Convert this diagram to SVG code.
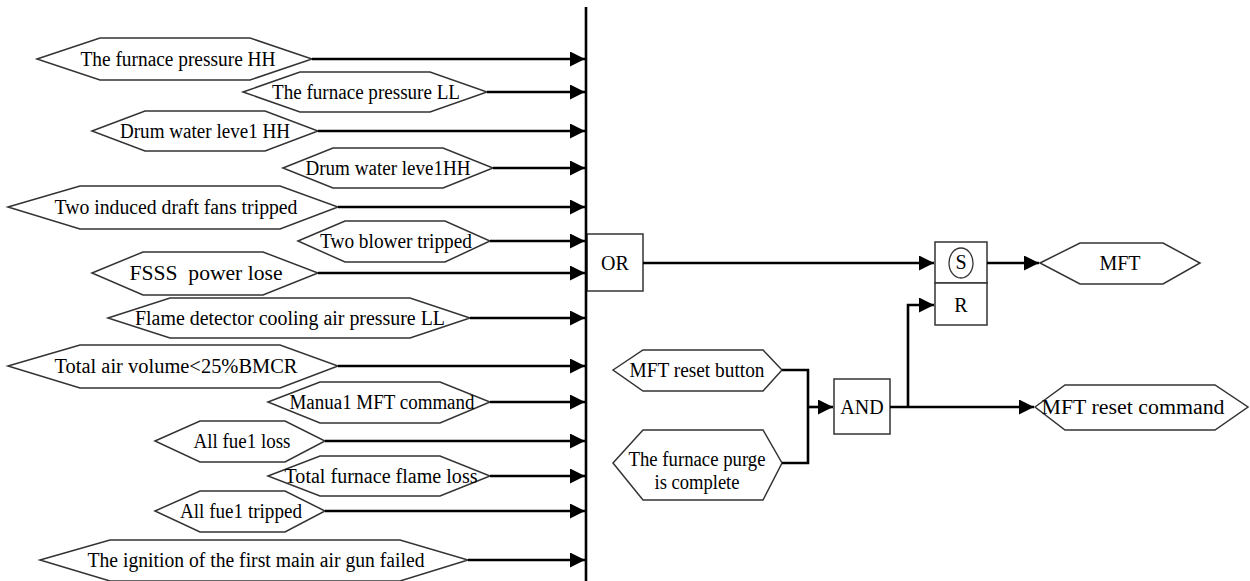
<svg xmlns="http://www.w3.org/2000/svg" width="1250" height="581" viewBox="0 0 1250 581">
  <style>
    .hex { fill: #ffffff; stroke: #333333; stroke-width: 1.5; }
    .box { fill: #ffffff; stroke: #333333; stroke-width: 1.5; }
    .lbl { font-family: "Liberation Serif", "Times New Roman", serif; font-size: 20px; fill: #000000; text-anchor: middle; dominant-baseline: central; }
    .wire { fill: none; stroke: #000000; stroke-width: 2.6; }
    .arr { marker-end: url(#head); }
  </style>
  <defs>
    <marker id="head" markerUnits="userSpaceOnUse" markerWidth="16" markerHeight="15" refX="15" refY="7.5" orient="auto">
      <path d="M0,0 L15,7.5 L0,15 z" fill="#000000"/>
    </marker>
  </defs>
  <rect width="1250" height="581" fill="#ffffff"/>

  <!-- trip condition inputs -->
  <g id="in1"><polygon class="hex" points="37,59 100,38 250,38 312,59 250,80 100,80"/><text class="lbl" x="178" y="59" textLength="195" lengthAdjust="spacingAndGlyphs">The furnace pressure HH</text></g>
  <g id="in2"><polygon class="hex" points="243,92 300,72 430,72 487,92 430,112 300,112"/><text class="lbl" x="366" y="92" textLength="188" lengthAdjust="spacingAndGlyphs">The furnace pressure LL</text></g>
  <g id="in3"><polygon class="hex" points="92,131 145,111 265,111 318,131 265,151 145,151"/><text class="lbl" x="205" y="131" textLength="170" lengthAdjust="spacingAndGlyphs">Drum water leve1 HH</text></g>
  <g id="in4"><polygon class="hex" points="283,168 333,148 443,148 493,168 443,188 333,188"/><text class="lbl" x="388" y="168" textLength="165" lengthAdjust="spacingAndGlyphs">Drum water leve1HH</text></g>
  <g id="in5"><polygon class="hex" points="8,207 80,186 280,186 338,207 280,229 80,229"/><text class="lbl" x="176" y="207" textLength="243" lengthAdjust="spacingAndGlyphs">Two induced draft fans tripped</text></g>
  <g id="in6"><polygon class="hex" points="298,241 345,221 445,221 490,241 445,262 345,262"/><text class="lbl" x="396" y="241" textLength="152" lengthAdjust="spacingAndGlyphs">Two blower tripped</text></g>
  <g id="in7"><polygon class="hex" points="92,273 143,252 263,252 318,273 263,295 143,295"/><text class="lbl" x="206" y="273" textLength="153" lengthAdjust="spacingAndGlyphs" xml:space="preserve">FSSS  power lose</text></g>
  <g id="in8"><polygon class="hex" points="108,318 170,298 410,298 470,318 410,338 170,338"/><text class="lbl" x="290" y="318" textLength="310" lengthAdjust="spacingAndGlyphs">Flame detector cooling air pressure LL</text></g>
  <g id="in9"><polygon class="hex" points="8,366 80,345 280,345 338,366 280,388 80,388"/><text class="lbl" x="176" y="366" textLength="243" lengthAdjust="spacingAndGlyphs">Total air volume&lt;25%BMCR</text></g>
  <g id="in10"><polygon class="hex" points="268,402 320,382 440,382 490,402 440,423 320,423"/><text class="lbl" x="382" y="402" textLength="185" lengthAdjust="spacingAndGlyphs">Manua1 MFT command</text></g>
  <g id="in11"><polygon class="hex" points="155,441 200,421 285,421 325,441 285,462 200,462"/><text class="lbl" x="242" y="441" textLength="97" lengthAdjust="spacingAndGlyphs">All fue1 loss</text></g>
  <g id="in12"><polygon class="hex" points="268,476 320,456 440,456 490,476 440,496 320,496"/><text class="lbl" x="381" y="476" textLength="193" lengthAdjust="spacingAndGlyphs">Total furnace flame loss</text></g>
  <g id="in13"><polygon class="hex" points="155,511 200,491 285,491 325,511 285,532 200,532"/><text class="lbl" x="241" y="511" textLength="122" lengthAdjust="spacingAndGlyphs">All fue1 tripped</text></g>
  <g id="in14"><polygon class="hex" points="40,560 110,540 400,540 468,560 400,581 110,581"/><text class="lbl" x="256" y="560" textLength="337" lengthAdjust="spacingAndGlyphs">The ignition of the first main air gun failed</text></g>

  <!-- logic blocks -->
  <g id="or-gate"><rect class="box" x="587" y="234" width="56" height="57"/><text class="lbl" x="615" y="263">OR</text></g>
  <g id="rs-latch">
    <rect class="box" x="935" y="242" width="52" height="41"/>
    <rect class="box" x="935" y="283" width="52" height="42"/>
    <ellipse cx="961" cy="263" rx="12" ry="15" fill="none" stroke="#333333" stroke-width="1.3"/>
    <text class="lbl" x="961" y="262">S</text>
    <text class="lbl" x="961" y="305">R</text>
  </g>
  <g id="mft"><polygon class="hex" points="1040,263 1080,243 1163,243 1200,263 1163,284 1080,284"/><text class="lbl" x="1120" y="263">MFT</text></g>
  <g id="reset-button"><polygon class="hex" points="613,370 643,350 763,350 782,370 763,391 643,391"/><text class="lbl" x="697" y="370" textLength="135" lengthAdjust="spacingAndGlyphs">MFT reset button</text></g>
  <g id="purge-complete"><polygon class="hex" points="613,463 643,430 763,430 782,463 763,500 643,500"/><text class="lbl" x="697" y="459" textLength="137" lengthAdjust="spacingAndGlyphs">The furnace purge</text><text class="lbl" x="697" y="482" textLength="85" lengthAdjust="spacingAndGlyphs">is complete</text></g>
  <g id="and-gate"><rect class="box" x="834" y="379" width="56" height="55"/><text class="lbl" x="862" y="407">AND</text></g>
  <g id="reset-command"><polygon class="hex" points="1035,407 1065,385 1215,385 1248,407 1215,430 1065,430"/><text class="lbl" x="1133" y="407" textLength="183" lengthAdjust="spacingAndGlyphs">MFT reset command</text></g>

  <!-- connectors -->
  <g id="connectors">
    <line class="wire" x1="586" y1="7" x2="586" y2="581"/>
    <line class="wire arr" x1="312" y1="59" x2="585" y2="59"/>
    <line class="wire arr" x1="487" y1="92" x2="585" y2="92"/>
    <line class="wire arr" x1="318" y1="131" x2="585" y2="131"/>
    <line class="wire arr" x1="493" y1="168" x2="585" y2="168"/>
    <line class="wire arr" x1="338" y1="207" x2="585" y2="207"/>
    <line class="wire arr" x1="490" y1="241" x2="585" y2="241"/>
    <line class="wire arr" x1="318" y1="273" x2="585" y2="273"/>
    <line class="wire arr" x1="470" y1="318" x2="585" y2="318"/>
    <line class="wire arr" x1="338" y1="366" x2="585" y2="366"/>
    <line class="wire arr" x1="490" y1="402" x2="585" y2="402"/>
    <line class="wire arr" x1="325" y1="441" x2="585" y2="441"/>
    <line class="wire arr" x1="490" y1="476" x2="585" y2="476"/>
    <line class="wire arr" x1="325" y1="511" x2="585" y2="511"/>
    <line class="wire arr" x1="468" y1="560" x2="585" y2="560"/>
    <line class="wire arr" x1="643" y1="263" x2="934" y2="263"/>
    <line class="wire arr" x1="987" y1="263" x2="1039" y2="263"/>
    <polyline class="wire" points="782,370 808,370 808,463 782,463"/>
    <line class="wire arr" x1="808" y1="407" x2="833" y2="407"/>
    <line class="wire arr" x1="890" y1="407" x2="1034" y2="407"/>
    <polyline class="wire arr" points="908,407 908,305 934,305"/>
  </g>
</svg>
